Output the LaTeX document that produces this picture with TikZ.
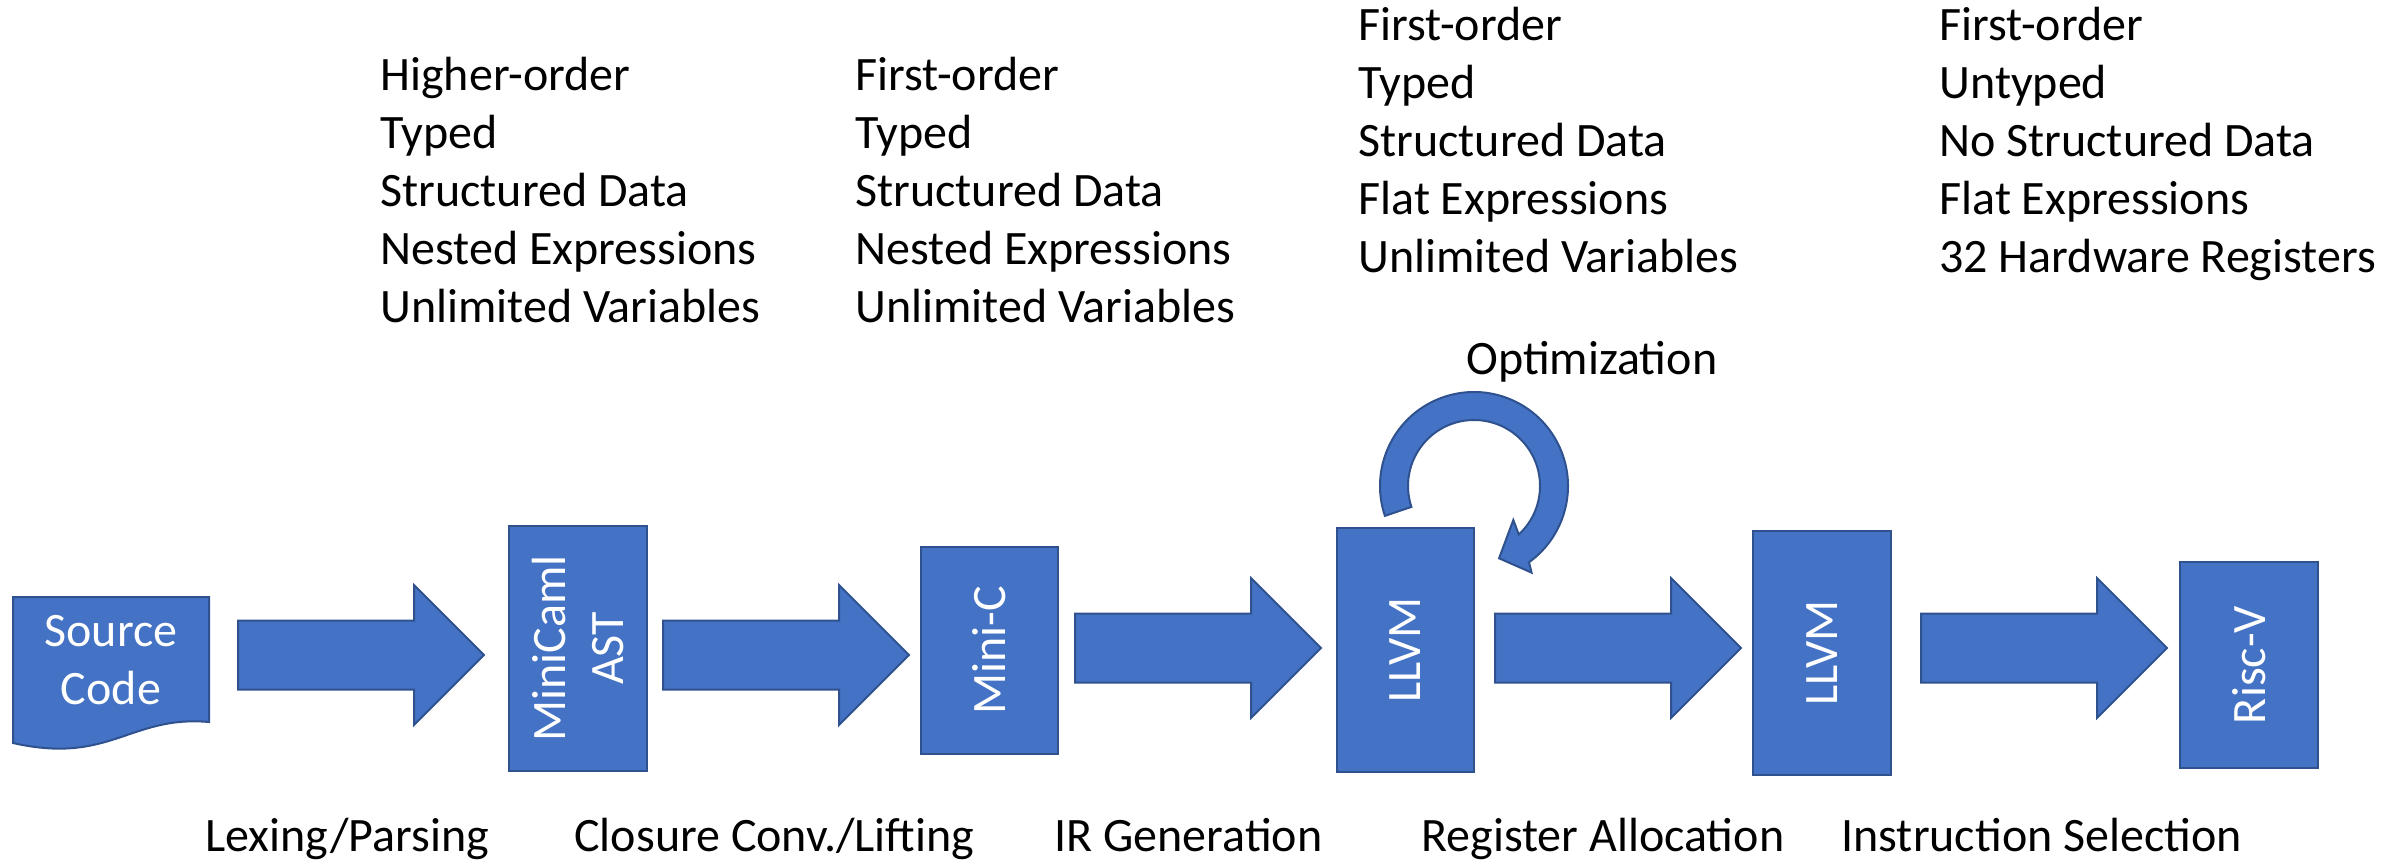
\documentclass[tikz,border=0pt]{standalone}
\usepackage{fontspec}
\setmainfont{Carlito}
\definecolor{boxblue}{HTML}{4472C4}
\definecolor{boxedge}{HTML}{2F528F}
\newcommand\diagfont{\fontsize{24}{29}\selectfont}
% block arrow: #1 = left x, #2 = centre y (pixel units, y pointing down)
\newcommand\flowarrow[2]{%
  \draw[flow] ({#1},{#2-34.5}) -- ++(176,0) -- ++(0,-35.5) -- ({#1+246},{#2})
    -- ({#1+176},{#2+70}) -- ++(0,-35.5) -- ({#1},{#2+34.5}) -- cycle;}
\begin{document}
\begin{tikzpicture}[x=0.5pt,y=0.5pt,yscale=-1,
  stage/.style={draw=boxedge, fill=boxblue, line width=1pt, text=white,
    font=\diagfont, inner sep=0pt, align=center},
  flow/.style={draw=boxedge, fill=boxblue, line width=1pt},
  note/.style={font=\diagfont, align=left, anchor=north west, inner sep=0pt},
  passlabel/.style={font=\diagfont, anchor=base west, inner sep=0pt}]
\useasboundingbox (0,0) rectangle (2407,862);

% property lists above the stages
\node[note] (hiprops) at (380,57) {Higher-order\\Typed\\Structured Data\\Nested Expressions\\Unlimited Variables};
\node[note] (cprops) at (855,57) {First-order\\Typed\\Structured Data\\Nested Expressions\\Unlimited Variables};
\node[note] (llprops) at (1358,6.5) {First-order\\Typed\\Structured Data\\Flat Expressions\\Unlimited Variables};
\node[note] (rvprops) at (1939,6.5) {First-order\\Untyped\\No Structured Data\\Flat Expressions\\32 Hardware Registers};

% source document
\draw[flow] (13,597) -- (209,597) -- (209,722)
  .. controls (130,715) and (110,765) .. (13,743) -- cycle;
\node[text=white, font=\diagfont, align=center, inner sep=0pt] (src) at (111,660) {Source\\Code};

% compiler stages
\node[stage, rotate=90, minimum width=122.5pt, minimum height=69pt] (ast) at (578,648.5) {MiniCaml\\AST};
\node[stage, rotate=90, minimum width=103.5pt, minimum height=68.5pt] (minic) at (989.5,650.5) {Mini-C};
\node[stage, rotate=90, minimum width=122pt, minimum height=68.5pt] (llvma) at (1405.5,650) {LLVM};
\node[stage, rotate=90, minimum width=122pt, minimum height=69pt] (llvmb) at (1822,653) {LLVM};
\node[stage, rotate=90, minimum width=103pt, minimum height=69pt] (riscv) at (2249,665) {Risc-V};

% passes between stages
\flowarrow{238}{655}
\flowarrow{663}{655}
\flowarrow{1075}{648}
\flowarrow{1495}{648}
\flowarrow{1921}{648}

% optimisation loop on the first LLVM stage
\begin{scope}[shift={(1474,486)}]
  \draw[flow] (161.5:94) arc[start angle=161.5, end angle=414.2, radius=47pt]
    -- (416.4:104) -- (430.9:76.5) -- (400.9:52) -- (407.3:66)
    arc[start angle=407.3, end angle=161.5, radius=33pt] -- cycle;
\end{scope}
\node[passlabel] (optlabel) at (1466,374) {Optimization};

% pass names
\node[passlabel] (lex) at (205,851) {Lexing/Parsing};
\node[passlabel] (clo) at (574,851) {Closure Conv./Lifting};
\node[passlabel] (irgen) at (1054,851) {IR Generation};
\node[passlabel] (regalloc) at (1421,851) {Register Allocation};
\node[passlabel] (isel) at (1841,851) {Instruction Selection};
\end{tikzpicture}
\end{document}
